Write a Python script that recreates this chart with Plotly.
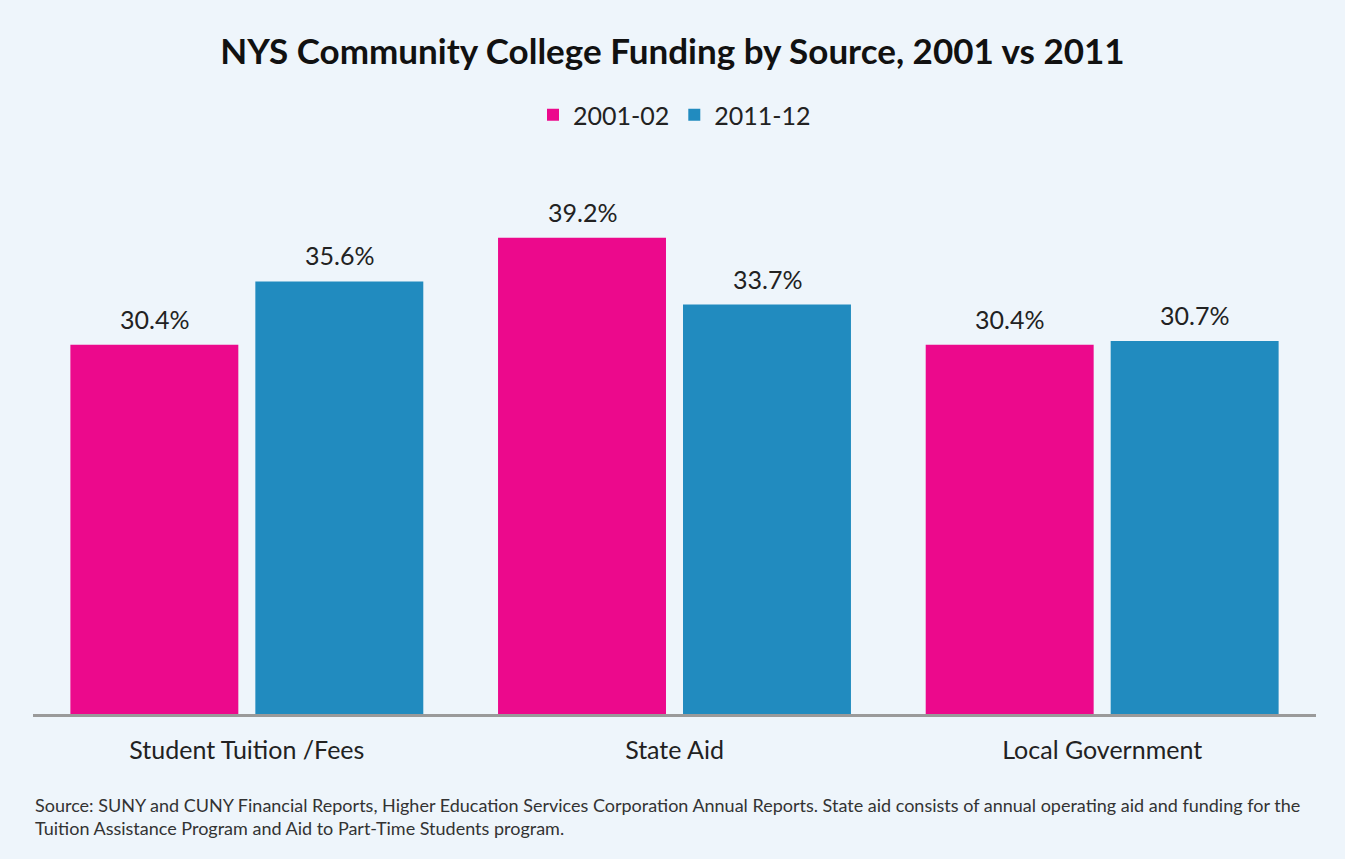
import plotly.graph_objects as go

categories = ["Student Tuition /Fees", "State Aid", "Local Government"]
series_2001 = [30.4, 39.2, 30.4]
series_2011 = [35.6, 33.7, 30.7]
series_names = ["2001-02", "2011-12"]

BG = "#EEF5FB"
PINK = "#EC098C"
BLUE = "#218BBF"
FONT = "Lato"

fig = go.Figure()
for name, vals, col in [(series_names[0], series_2001, PINK), (series_names[1], series_2011, BLUE)]:
    fig.add_trace(go.Bar(
        x=categories, y=vals, name=name, marker=dict(color=col, line=dict(width=0)),
        hoverinfo="x+y",
    ))

# value labels, placed above each bar through the data axes
for vals, shift in [(series_2001, -92.5), (series_2011, 92.5)]:
    for c, v in zip(categories, vals):
        fig.add_annotation(x=c, y=v, xref="x", yref="y", text=f"{v:.1f}%",
                           showarrow=False, xshift=shift, yshift=26, yanchor="middle",
                           font=dict(size=25, color="#222", family=FONT))

fig.update_layout(
    width=1345, height=859,
    paper_bgcolor=BG, plot_bgcolor=BG,
    margin=dict(l=33, r=29, t=228, b=145),
    barmode="group", bargap=0.135, bargroupgap=0.092,
    title=dict(text="<b>NYS Community College Funding by Source, 2001 vs 2011</b>",
               x=0.5, xanchor="center", y=1 - 52 / 859, yanchor="middle",
               font=dict(size=35, color="#111", family=FONT, weight=900)),
    legend=dict(orientation="h", x=0.5, xanchor="center", y=1 - 115 / 859, yref="container",
                yanchor="middle",
                font=dict(size=25, color="#222", family=FONT), bgcolor="rgba(0,0,0,0)",
                traceorder="normal", itemwidth=30),
    showlegend=True,
    font=dict(family=FONT),
)
fig.update_xaxes(showline=True, linecolor="#9A9A9A", linewidth=3, ticks="",
                 ticklabelstandoff=12,
                 tickfont=dict(size=25, color="#222", family=FONT))
fig.update_yaxes(range=[0, 40], visible=False, showgrid=False, zeroline=False)

fig.add_annotation(
    text="Source: SUNY and CUNY Financial Reports, Higher Education Services Corporation Annual Reports. State aid consists of annual operating aid and funding for the<br>Tuition Assistance Program and Aid to Part-Time Students program.",
    xref="paper", yref="paper", x=0.0, y=-0.16, xanchor="left", yanchor="top",
    showarrow=False, align="left", font=dict(size=18, color="#333", family=FONT),
)

fig.write_html("out.html", config={"displayModeBar": False},
               post_script="document.body.style.margin='0';document.body.style.overflow='hidden';")
